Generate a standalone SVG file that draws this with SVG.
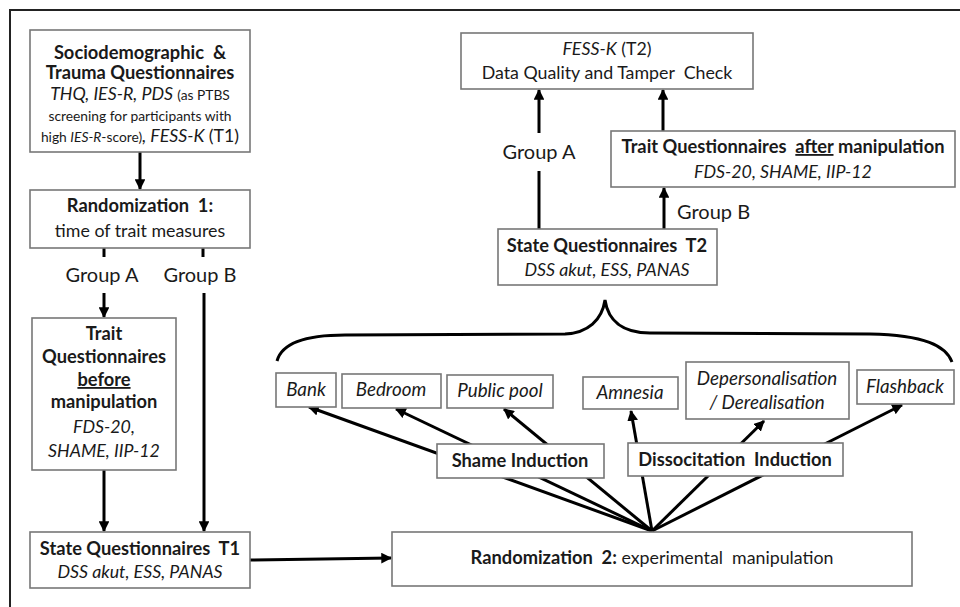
<svg xmlns="http://www.w3.org/2000/svg" width="960" height="607" viewBox="0 0 960 607">
<style>
  text { font-family: Lato, "Liberation Sans", sans-serif; fill: #1a1a1a; text-anchor: middle; }
  .m { font-size: 17.8px; }
  .b { font-weight: bold; font-size: 18.3px; }
  .i { font-style: italic; }
  .s { font-size: 13.8px; }
  .it { font-size: 18.8px; font-style: italic; }
  .lbl { font-size: 20px; }
  .box { fill: #fff; stroke: #777; stroke-width: 1.6; }
  .c { stroke: #000; stroke-width: 3; fill: none; }
  .u { text-decoration: underline; }
</style>
<defs>
  <marker id="ah" viewBox="0 0 10 10" refX="9" refY="5" markerWidth="3.6" markerHeight="3.6" orient="auto" markerUnits="strokeWidth">
    <path d="M0,0 L10,5 L0,10 Z" fill="#000"/>
  </marker>
</defs>
<rect width="960" height="607" fill="#fff"/>
<path d="M10,607 L10,10 L960,10" stroke="#222" stroke-width="2" fill="none"/>

<g id="connectors">
  <line class="c" x1="140" y1="152" x2="140" y2="189" marker-end="url(#ah)"/>
  <line class="c" x1="104" y1="248" x2="104" y2="257"/>
  <line class="c" x1="203" y1="248" x2="203" y2="257"/>
  <line class="c" x1="104" y1="293" x2="104" y2="317" marker-end="url(#ah)"/>
  <line class="c" x1="204" y1="293" x2="204" y2="531" marker-end="url(#ah)"/>
  <line class="c" x1="104" y1="470" x2="104" y2="531" marker-end="url(#ah)"/>
  <line class="c" x1="250" y1="560" x2="391" y2="558" marker-end="url(#ah)"/>
  <line class="c" x1="539" y1="229" x2="539" y2="171"/>
  <line class="c" x1="539" y1="133" x2="539" y2="90" marker-end="url(#ah)"/>
  <line class="c" x1="664" y1="229" x2="664" y2="188" marker-end="url(#ah)"/>
  <line class="c" x1="663" y1="131" x2="663" y2="90" marker-end="url(#ah)"/>
  <path class="c" d="M277,361 C281,346 300,335 345,335 L565,334 C588,333 602,320 605,300 C608,320 622,333 650,333 L870,334 C925,335 946,346 952,362"/>
  <line class="c" x1="652" y1="531" x2="309" y2="407" marker-end="url(#ah)"/>
  <line class="c" x1="652" y1="531" x2="396" y2="409" marker-end="url(#ah)"/>
  <line class="c" x1="652" y1="531" x2="504" y2="409" marker-end="url(#ah)"/>
  <line class="c" x1="652" y1="531" x2="631" y2="411" marker-end="url(#ah)"/>
  <line class="c" x1="652" y1="531" x2="764" y2="421" marker-end="url(#ah)"/>
  <line class="c" x1="652" y1="531" x2="902" y2="405" marker-end="url(#ah)"/>
</g>

<g id="socio">
  <rect class="box" x="30" y="30" width="220" height="122"/>
  <text class="b" x="140" y="59" xml:space="preserve">Sociodemographic  &amp;</text>
  <text class="b" x="140" y="79">Trauma Questionnaires</text>
  <text x="140" y="100"><tspan class="m i">THQ, IES-R, PDS </tspan><tspan class="s">(as PTBS</tspan></text>
  <text class="s" x="140" y="121">screening for participants with</text>
  <text x="140" y="142"><tspan class="s">high </tspan><tspan class="s i">IES-R</tspan><tspan class="s">-score)</tspan><tspan class="m i">, FESS-K </tspan><tspan class="m">(T1)</tspan></text>
</g>

<g id="rand1">
  <rect class="box" x="30" y="190" width="220" height="58"/>
  <text class="b" x="140" y="212" xml:space="preserve">Randomization  1:</text>
  <text class="m" x="140" y="237">time of trait measures</text>
</g>

<g id="labels-left">
  <text class="lbl" x="102" y="282">Group A</text>
  <text class="lbl" x="200" y="282">Group B</text>
</g>

<g id="trait-before">
  <rect class="box" x="32" y="318" width="144" height="152"/>
  <text class="b" x="104" y="340">Trait</text>
  <text class="b" x="104" y="363">Questionnaires</text>
  <text class="b" x="104" y="386"><tspan class="u">before</tspan></text>
  <text class="b" x="104" y="408">manipulation</text>
  <text class="m i" x="104" y="433">FDS-20,</text>
  <text class="m i" x="104" y="457">SHAME, IIP-12</text>
</g>

<g id="state-t1">
  <rect class="box" x="30" y="532" width="220" height="56"/>
  <text class="b" x="140" y="555" xml:space="preserve">State Questionnaires  T1</text>
  <text class="m i" x="140" y="578">DSS akut, ESS, PANAS</text>
</g>

<g id="rand2">
  <rect class="box" x="392" y="532" width="520" height="54"/>
  <text class="m" x="652" y="564" xml:space="preserve"><tspan class="b">Randomization  2:</tspan> experimental  manipulation</text>
</g>

<g id="fess-t2">
  <rect class="box" x="461" y="33" width="292" height="56"/>
  <text class="m" x="607" y="55"><tspan class="i">FESS-K</tspan> (T2)</text>
  <text class="m" x="607" y="79" xml:space="preserve">Data Quality and Tamper  Check</text>
</g>

<g id="labels-right">
  <text class="lbl" x="539" y="159">Group A</text>
  <text class="lbl" x="677" y="219" style="text-anchor:start">Group B</text>
</g>

<g id="trait-after">
  <rect class="box" x="611" y="131" width="344" height="56"/>
  <text class="b" x="783" y="153" xml:space="preserve">Trait Questionnaires  <tspan class="u">after</tspan> manipulation</text>
  <text class="m i" x="783" y="178">FDS-20, SHAME, IIP-12</text>
</g>

<g id="state-t2">
  <rect class="box" x="498" y="229" width="219" height="56"/>
  <text class="b" x="607" y="252" xml:space="preserve">State Questionnaires  T2</text>
  <text class="m i" x="607" y="276">DSS akut, ESS, PANAS</text>
</g>

<g id="bank">
  <rect class="box" x="276" y="373" width="60" height="34"/>
  <text class="it" x="306" y="396">Bank</text>
</g>
<g id="bedroom">
  <rect class="box" x="342" y="374" width="99" height="34"/>
  <text class="it" x="391" y="396">Bedroom</text>
</g>
<g id="public-pool">
  <rect class="box" x="447" y="375" width="106" height="33"/>
  <text class="it" x="500" y="397">Public pool</text>
</g>
<g id="amnesia">
  <rect class="box" x="583" y="377" width="95" height="32"/>
  <text class="it" x="630" y="399">Amnesia</text>
</g>
<g id="deperson">
  <rect class="box" x="686" y="362" width="163" height="57"/>
  <text class="it" x="767" y="385">Depersonalisation</text>
  <text class="it" x="767" y="409">/ Derealisation</text>
</g>
<g id="flashback">
  <rect class="box" x="857" y="370" width="97" height="34"/>
  <text class="it" x="905" y="393">Flashback</text>
</g>
<g id="shame">
  <rect class="box" x="437" y="444" width="167" height="34"/>
  <text class="b" x="520" y="467">Shame Induction</text>
</g>
<g id="dissoc">
  <rect class="box" x="628" y="443" width="215" height="33"/>
  <text class="b" x="735" y="466" xml:space="preserve">Dissocitation  Induction</text>
</g>
</svg>
